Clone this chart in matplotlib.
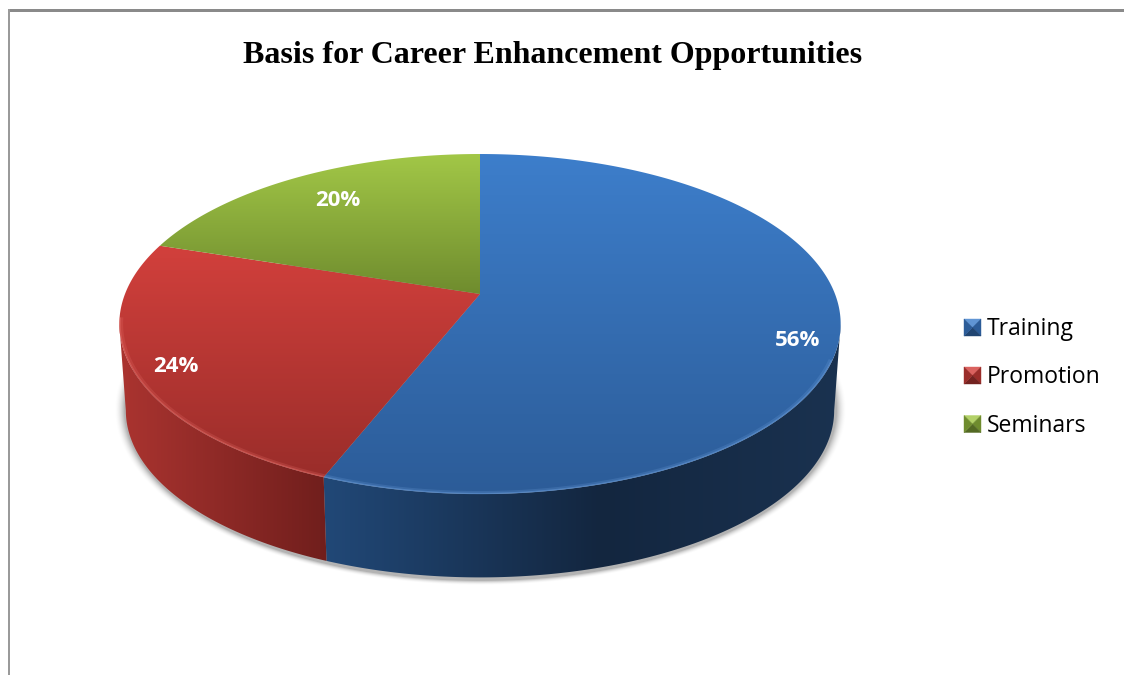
import numpy as np
import matplotlib
matplotlib.use("Agg")
import matplotlib.pyplot as plt
from matplotlib.path import Path
from matplotlib.patches import PathPatch, Polygon, Rectangle
from matplotlib.colors import LinearSegmentedColormap, to_rgb

categories = ["Training", "Promotion", "Seminars"]
shares = [56, 24, 20]
share_labels = ["56%", "24%", "20%"]

top_colors = [("#3d7ecb", "#2c5c98"), ("#d2403c", "#9a2d2a"), ("#a2c747", "#6f8c2e")]
side_colors = {
    "Training": [(325, "#214877"), (600, "#13263f"), (840, "#1a3250")],
    "Promotion": [(118, "#ab3430"), (330, "#6f1e1c")],
}
rim_colors = ["#6d9fdc", "#e8706a", "#bcd96f"]
label_xy = [(798, 340), (176, 367), (338, 200)]
legend_rows = [327.5, 375.5, 424]

W, H = 1124, 675
fig = plt.figure(figsize=(W / 100, H / 100), dpi=100)
ax = fig.add_axes([0, 0, 1, 1])
ax.set_xlim(0, W)
ax.set_ylim(H, 0)
ax.axis("off")

# Outer chart frame: top and left edges only are in view
ax.add_patch(Rectangle((7.5, 9), W, 2.5, fc="#8a8a8a", ec="none"))
ax.add_patch(Rectangle((7.5, 9), 2.5, H, fc="#9a9a9a", ec="none"))

# A tilted disc is a circle seen through a perspective transform
TILT = 0.1765
WIDEST = np.deg2rad(100.2)


def project(theta, radius=1.0, scale=1.0, drop=0.0):
    """Map clockwise-from-north angles on the disc to canvas coordinates."""
    u = radius * np.sin(theta)
    v = radius * np.cos(theta)
    w = 1 + TILT * v
    return 480 + 355 * scale * u / w, 294 + drop - 164.7 * scale * v / w


BASE = dict(scale=0.982, drop=87.0)

edges = np.deg2rad(np.r_[0, np.cumsum(shares)] / np.sum(shares) * 360)
yy, xx = np.mgrid[0:H, 0:W]

# Soft contact shadow under the base of the disc
cx, cy, ra, rb = 480, 409, 356, 171
f = np.sqrt(((xx - cx) / ra) ** 2 + ((yy - cy) / rb) ** 2)
shadow = np.clip((1.03 - f) / 0.03, 0, 1) ** 2 * 0.3
rgba = np.zeros((H, W, 4))
rgba[..., 3] = shadow
ax.imshow(rgba, extent=(0, W, H, 0), zorder=1, interpolation="bilinear", aspect="auto")


def ramp_image(stops):
    xs = np.arange(W)
    pts = [s[0] for s in stops]
    cols = np.array([to_rgb(s[1]) for s in stops])
    row = np.stack([np.interp(xs, pts, cols[:, i]) for i in range(3)], axis=-1)
    return np.repeat(row[None, :, :], 2, axis=0)


# Outer wall: only the near part of each wedge shows
for name, start, stop in zip(categories, edges[:-1], edges[1:]):
    if name not in side_colors:
        continue
    lo = max(start, WIDEST)
    hi = min(stop, 2 * np.pi - WIDEST)
    t = np.linspace(lo, hi, 240)
    tx, ty = project(t)
    bx, by = project(t, **BASE)
    verts = np.r_[np.c_[tx, ty], np.c_[bx, by][::-1]]
    wall = Polygon(verts, closed=True, fc="none", ec="none")
    ax.add_patch(wall)
    im = ax.imshow(ramp_image(side_colors[name]), extent=(0, W, H, 0), zorder=2,
                   interpolation="bilinear", aspect="auto")
    im.set_clip_path(wall)

# Top surface wedges, each shaded from its far edge to its near edge
for (c0, c1), start, stop in zip(top_colors, edges[:-1], edges[1:]):
    t = np.linspace(start, stop, 300)
    tx, ty = project(t)
    verts = np.r_[[[480, 294]], np.c_[tx, ty], [[480, 294]]]
    codes = [Path.MOVETO] + [Path.LINETO] * (len(verts) - 2) + [Path.CLOSEPOLY]
    wedge = PathPatch(Path(verts, codes), fc="none", ec="none")
    ax.add_patch(wedge)
    cmap = LinearSegmentedColormap.from_list("shade", [c0, c1])
    im = ax.imshow(np.linspace(0, 1, 256)[:, None], extent=(0, W, verts[:, 1].max(), verts[:, 1].min()),
                   cmap=cmap, zorder=3, interpolation="bilinear", aspect="auto")
    im.set_clip_path(wedge)

ax.set_xlim(0, W)
ax.set_ylim(H, 0)

# Bevel highlight running round the near rim
for rim, start, stop in zip(rim_colors, edges[:-1], edges[1:]):
    lo, hi = max(start, np.deg2rad(112)), min(stop, np.deg2rad(262))
    if hi <= lo:
        continue
    t = np.linspace(lo, hi, 200)
    for radius, lw, alpha in [(0.994, 2.2, 0.22), (0.998, 1.0, 0.45)]:
        tx, ty = project(t, radius=radius)
        ax.plot(tx, ty, color=rim, lw=lw, alpha=alpha, zorder=4, solid_capstyle="butt")

for text, (x, y) in zip(share_labels, label_xy):
    ax.text(x, y, text, color="white", fontsize=16, fontweight="bold", family="Open Sans",
            ha="center", va="center", zorder=5)

ax.text(553, 55, "Basis for Career Enhancement Opportunities", family="Liberation Serif",
        fontweight="bold", fontsize=23, ha="center", va="center", color="black", zorder=5)


def lighten(col, amt):
    c = np.array(to_rgb(col))
    return tuple(c + (1 - c) * amt) if amt >= 0 else tuple(c * (1 + amt))


# Legend keys are small bevelled squares built from four triangles
half = 8.5
for name, y, (c0, c1) in zip(categories, legend_rows, top_colors):
    x = 972.5
    corners = [(x - half, y - half), (x + half, y - half), (x + half, y + half), (x - half, y + half)]
    shades = [lighten(c0, 0.18), c1, lighten(c1, -0.25), c1]
    for i, shade in enumerate(shades):
        ax.add_patch(Polygon([corners[i], corners[(i + 1) % 4], (x, y)], closed=True, fc=shade,
                             ec=shade, lw=0.3, zorder=5))
    ax.text(987, y + 1.5, name, family="Open Sans", fontsize=16.5, ha="left", va="center",
            color="black", zorder=5)

fig.savefig("out.png", dpi=100)
